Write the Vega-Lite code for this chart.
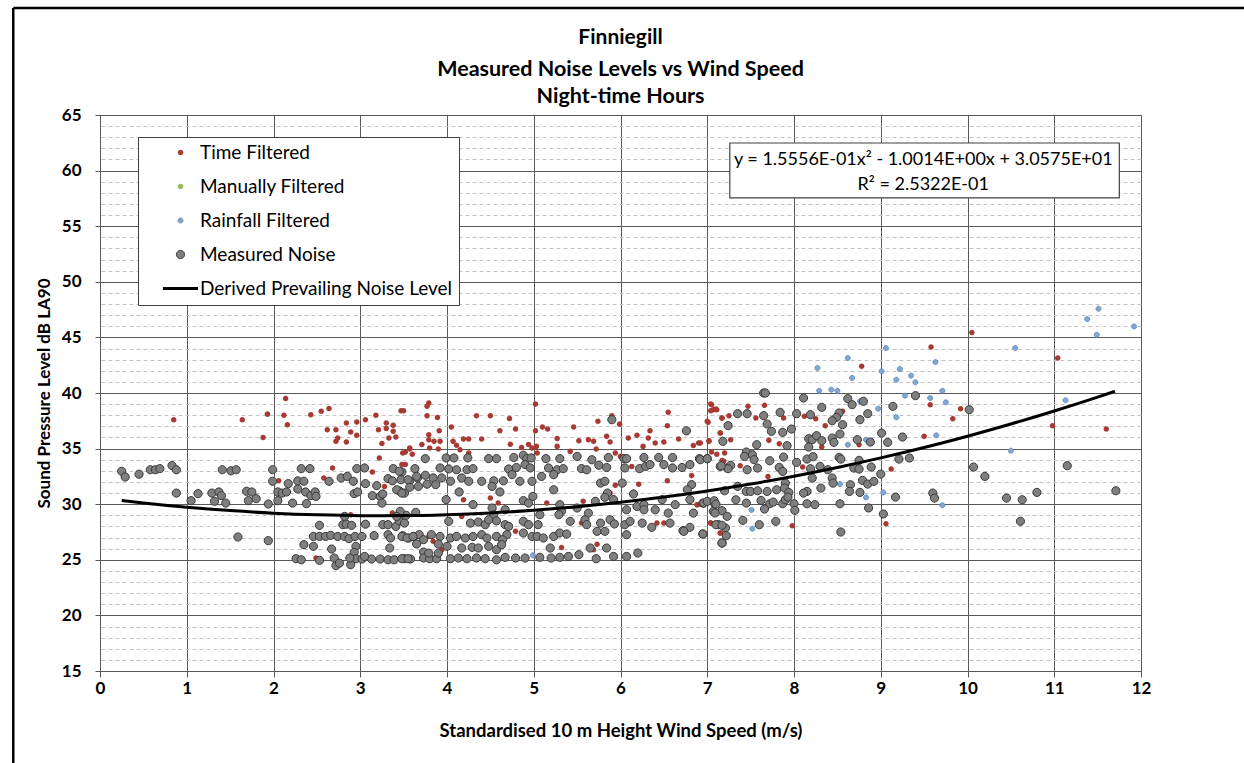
{
  "$schema": "https://vega.github.io/schema/vega-lite/v6.json",
  "width": 1041,
  "height": 556,
  "autosize": {"type": "none"},
  "padding": {"left": 100, "top": 115, "right": 103, "bottom": 92},
  "background": "white",
  "title": {
    "text": "Finniegill",
    "subtitle": ["Measured Noise Levels vs Wind Speed", "Night-time Hours"],
    "anchor": "middle",
    "frame": "group",
    "font": "Lato",
    "fontSize": 21,
    "fontWeight": "bold",
    "color": "black",
    "subtitleFont": "Lato",
    "subtitleFontSize": 21.5,
    "subtitleFontWeight": "bold",
    "subtitleColor": "black",
    "subtitleLineHeight": 27,
    "subtitlePadding": 11,
    "offset": 8,
    "dy": 109
  },
  "resolve": {"axis": {"y": "independent"}},
  "config": {
    "font": "Lato",
    "view": {"stroke": "#595959", "strokeWidth": 1},
    "axis": {
      "labelFont": "Lato",
      "labelFontSize": 17,
      "labelFontWeight": "bold",
      "labelColor": "black",
      "labelOverlap": false,
      "titleFont": "Lato",
      "titleFontSize": 17,
      "titleFontWeight": "bold",
      "titleColor": "black",
      "domainColor": "#595959",
      "tickColor": "#595959"
    }
  },
  "datasets": {
    "pts": [
      {"series":"Time Filtered","x":0.85,"y":37.6},{"series":"Time Filtered","x":1.64,"y":37.6},{"series":"Time Filtered","x":1.93,"y":38.1},{"series":"Time Filtered","x":1.88,"y":36.0},{"series":"Time Filtered","x":2.14,"y":39.5},{"series":"Time Filtered","x":2.12,"y":38.0},{"series":"Time Filtered","x":2.16,"y":37.15},{"series":"Time Filtered","x":2.43,"y":38.05},{"series":"Time Filtered","x":2.55,"y":38.35},{"series":"Time Filtered","x":2.64,"y":38.6},{"series":"Time Filtered","x":2.62,"y":36.7},{"series":"Time Filtered","x":2.72,"y":36.7},{"series":"Time Filtered","x":2.74,"y":35.95},{"series":"Time Filtered","x":2.72,"y":35.65},{"series":"Time Filtered","x":2.84,"y":35.6},{"series":"Time Filtered","x":2.84,"y":37.3},{"series":"Time Filtered","x":2.89,"y":36.5},{"series":"Time Filtered","x":2.96,"y":37.4},{"series":"Time Filtered","x":2.96,"y":36.2},{"series":"Time Filtered","x":3.06,"y":37.6},{"series":"Time Filtered","x":3.18,"y":38.0},{"series":"Time Filtered","x":3.21,"y":36.7},{"series":"Time Filtered","x":3.3,"y":37.3},{"series":"Time Filtered","x":3.3,"y":36.8},{"series":"Time Filtered","x":3.38,"y":37.1},{"series":"Time Filtered","x":3.38,"y":36.55},{"series":"Time Filtered","x":3.33,"y":35.95},{"series":"Time Filtered","x":3.41,"y":36.05},{"series":"Time Filtered","x":3.25,"y":35.45},{"series":"Time Filtered","x":3.5,"y":38.4},{"series":"Time Filtered","x":3.52,"y":34.7},{"series":"Time Filtered","x":3.57,"y":34.97},{"series":"Time Filtered","x":3.6,"y":34.5},{"series":"Time Filtered","x":3.52,"y":33.56},{"series":"Time Filtered","x":3.22,"y":34.15},{"series":"Time Filtered","x":3.14,"y":32.9},{"series":"Time Filtered","x":2.68,"y":33.26},{"series":"Time Filtered","x":2.58,"y":32.36},{"series":"Time Filtered","x":2.06,"y":32.1},{"series":"Time Filtered","x":3.28,"y":31.6},{"series":"Time Filtered","x":2.89,"y":29.06},{"series":"Time Filtered","x":3.37,"y":29.2},{"series":"Time Filtered","x":2.49,"y":25.16},
      {"series":"Time Filtered","x":3.47,"y":38.4},{"series":"Time Filtered","x":3.79,"y":39.1},{"series":"Time Filtered","x":3.77,"y":38.8},{"series":"Time Filtered","x":3.77,"y":37.96},{"series":"Time Filtered","x":3.89,"y":37.8},{"series":"Time Filtered","x":4.34,"y":37.96},{"series":"Time Filtered","x":4.5,"y":37.96},{"series":"Time Filtered","x":4.72,"y":37.7},{"series":"Time Filtered","x":5.02,"y":39.0},{"series":"Time Filtered","x":4.05,"y":36.94},{"series":"Time Filtered","x":4.61,"y":36.6},{"series":"Time Filtered","x":4.79,"y":36.76},{"series":"Time Filtered","x":5.1,"y":36.94},{"series":"Time Filtered","x":5.16,"y":36.76},{"series":"Time Filtered","x":5.02,"y":36.6},{"series":"Time Filtered","x":5.46,"y":36.94},{"series":"Time Filtered","x":5.74,"y":37.45},{"series":"Time Filtered","x":5.9,"y":37.96},{"series":"Time Filtered","x":5.99,"y":37.2},{"series":"Time Filtered","x":6.55,"y":38.26},{"series":"Time Filtered","x":6.54,"y":37.06},{"series":"Time Filtered","x":6.34,"y":36.6},{"series":"Time Filtered","x":7.04,"y":39.0},{"series":"Time Filtered","x":7.07,"y":38.5},{"series":"Time Filtered","x":7.11,"y":38.5},{"series":"Time Filtered","x":7.17,"y":37.75},{"series":"Time Filtered","x":7.0,"y":37.45},{"series":"Time Filtered","x":3.91,"y":36.6},{"series":"Time Filtered","x":3.79,"y":36.25},{"series":"Time Filtered","x":3.79,"y":35.8},{"series":"Time Filtered","x":3.71,"y":35.36},{"series":"Time Filtered","x":3.8,"y":35.06},{"series":"Time Filtered","x":3.9,"y":34.97},{"series":"Time Filtered","x":3.85,"y":35.65},{"series":"Time Filtered","x":3.92,"y":35.65},{"series":"Time Filtered","x":4.07,"y":35.65},{"series":"Time Filtered","x":4.11,"y":35.3},{"series":"Time Filtered","x":4.15,"y":34.9},{"series":"Time Filtered","x":4.19,"y":35.86},{"series":"Time Filtered","x":4.25,"y":35.86},{"series":"Time Filtered","x":4.4,"y":35.86},{"series":"Time Filtered","x":4.25,"y":34.6},{"series":"Time Filtered","x":3.57,"y":35.06},{"series":"Time Filtered","x":3.49,"y":34.6},{"series":"Time Filtered","x":3.48,"y":33.56},{"series":"Time Filtered","x":4.73,"y":35.4},{"series":"Time Filtered","x":4.86,"y":35.1},{"series":"Time Filtered","x":4.94,"y":35.36},{"series":"Time Filtered","x":4.98,"y":35.06},{"series":"Time Filtered","x":5.03,"y":35.2},{"series":"Time Filtered","x":5.04,"y":34.6},{"series":"Time Filtered","x":5.27,"y":35.9},{"series":"Time Filtered","x":5.27,"y":35.2},{"series":"Time Filtered","x":5.42,"y":34.75},{"series":"Time Filtered","x":5.52,"y":35.7},{"series":"Time Filtered","x":5.63,"y":35.8},{"series":"Time Filtered","x":5.69,"y":35.65},{"series":"Time Filtered","x":5.72,"y":34.97},{"series":"Time Filtered","x":5.84,"y":36.1},{"series":"Time Filtered","x":5.88,"y":35.6},{"series":"Time Filtered","x":5.94,"y":34.6},{"series":"Time Filtered","x":6.09,"y":35.96},{"series":"Time Filtered","x":6.19,"y":36.2},{"series":"Time Filtered","x":6.26,"y":35.2},{"series":"Time Filtered","x":6.32,"y":35.96},{"series":"Time Filtered","x":6.4,"y":35.5},{"series":"Time Filtered","x":6.5,"y":35.6},{"series":"Time Filtered","x":6.67,"y":35.86},{"series":"Time Filtered","x":6.84,"y":35.27},{"series":"Time Filtered","x":6.9,"y":35.5},{"series":"Time Filtered","x":7.02,"y":35.7},{"series":"Time Filtered","x":7.15,"y":36.4},{"series":"Time Filtered","x":7.11,"y":34.5},{"series":"Time Filtered","x":7.19,"y":33.86},{"series":"Time Filtered","x":6.0,"y":34.3},{"series":"Time Filtered","x":6.13,"y":33.4},{"series":"Time Filtered","x":6.21,"y":31.8},{"series":"Time Filtered","x":6.54,"y":32.1},{"series":"Time Filtered","x":6.82,"y":32.57},{"series":"Time Filtered","x":5.94,"y":31.7},{"series":"Time Filtered","x":5.88,"y":31.0},{"series":"Time Filtered","x":4.5,"y":30.56},{"series":"Time Filtered","x":4.59,"y":30.1},{"series":"Time Filtered","x":5.15,"y":30.1},{"series":"Time Filtered","x":4.17,"y":28.9},{"series":"Time Filtered","x":4.79,"y":27.56},{"series":"Time Filtered","x":5.55,"y":28.3},{"series":"Time Filtered","x":5.73,"y":26.4},{"series":"Time Filtered","x":5.69,"y":25.9},{"series":"Time Filtered","x":5.32,"y":26.1},{"series":"Time Filtered","x":3.94,"y":25.9},{"series":"Time Filtered","x":3.84,"y":26.66},{"series":"Time Filtered","x":3.79,"y":27.1},{"series":"Time Filtered","x":6.88,"y":29.96},{"series":"Time Filtered","x":7.04,"y":28.3},{"series":"Time Filtered","x":7.15,"y":27.4},{"series":"Time Filtered","x":6.42,"y":28.3},{"series":"Time Filtered","x":6.5,"y":28.3},{"series":"Time Filtered","x":5.57,"y":30.26},{"series":"Time Filtered","x":4.19,"y":30.4},
      {"series":"Time Filtered","x":10.05,"y":45.45},{"series":"Time Filtered","x":9.58,"y":44.13},{"series":"Time Filtered","x":11.04,"y":43.14},{"series":"Time Filtered","x":8.78,"y":42.4},{"series":"Time Filtered","x":9.57,"y":38.95},{"series":"Time Filtered","x":9.92,"y":38.59},{"series":"Time Filtered","x":9.83,"y":37.69},{"series":"Time Filtered","x":9.5,"y":36.1},{"series":"Time Filtered","x":10.98,"y":37.06},{"series":"Time Filtered","x":11.6,"y":36.76},{"series":"Time Filtered","x":9.12,"y":33.16},{"series":"Time Filtered","x":9.06,"y":28.25},{"series":"Time Filtered","x":7.98,"y":28.07},{"series":"Time Filtered","x":7.05,"y":38.95},{"series":"Time Filtered","x":7.1,"y":38.56},{"series":"Time Filtered","x":7.04,"y":38.41},{"series":"Time Filtered","x":7.17,"y":37.75},{"series":"Time Filtered","x":7.25,"y":37.96},{"series":"Time Filtered","x":7.47,"y":38.8},{"series":"Time Filtered","x":7.66,"y":38.89},{"series":"Time Filtered","x":7.56,"y":37.75},{"series":"Time Filtered","x":7.88,"y":37.75},{"series":"Time Filtered","x":7.01,"y":37.36},{"series":"Time Filtered","x":7.15,"y":36.4},{"series":"Time Filtered","x":7.27,"y":35.8},{"series":"Time Filtered","x":7.02,"y":35.65},{"series":"Time Filtered","x":6.92,"y":35.5},{"series":"Time Filtered","x":7.05,"y":34.69},{"series":"Time Filtered","x":7.2,"y":34.6},{"series":"Time Filtered","x":7.17,"y":33.94},{"series":"Time Filtered","x":7.38,"y":33.46},{"series":"Time Filtered","x":7.71,"y":35.74},{"series":"Time Filtered","x":7.83,"y":35.44},{"series":"Time Filtered","x":7.7,"y":32.5},{"series":"Time Filtered","x":8.36,"y":37.06},{"series":"Time Filtered","x":8.25,"y":37.69},{"series":"Time Filtered","x":8.32,"y":35.14},{"series":"Time Filtered","x":8.12,"y":37.9},{"series":"Time Filtered","x":8.56,"y":38.35},{"series":"Time Filtered","x":8.75,"y":35.35},{"series":"Time Filtered","x":8.1,"y":33.34},{"series":"Time Filtered","x":7.17,"y":29.36},{"series":"Time Filtered","x":7.04,"y":28.31},{"series":"Time Filtered","x":7.15,"y":27.41},{"series":"Time Filtered","x":6.89,"y":29.96},
      {"series":"Rainfall Filtered","x":11.51,"y":47.58},{"series":"Rainfall Filtered","x":11.38,"y":46.65},{"series":"Rainfall Filtered","x":11.49,"y":45.24},{"series":"Rainfall Filtered","x":11.92,"y":45.99},{"series":"Rainfall Filtered","x":9.06,"y":44.04},{"series":"Rainfall Filtered","x":10.55,"y":44.04},{"series":"Rainfall Filtered","x":8.62,"y":43.14},{"series":"Rainfall Filtered","x":9.63,"y":42.78},{"series":"Rainfall Filtered","x":8.27,"y":42.25},{"series":"Rainfall Filtered","x":9.22,"y":42.15},{"series":"Rainfall Filtered","x":9.01,"y":41.95},{"series":"Rainfall Filtered","x":8.67,"y":41.35},{"series":"Rainfall Filtered","x":9.35,"y":41.56},{"series":"Rainfall Filtered","x":9.18,"y":41.2},{"series":"Rainfall Filtered","x":9.4,"y":40.96},{"series":"Rainfall Filtered","x":8.29,"y":40.2},{"series":"Rainfall Filtered","x":8.43,"y":40.3},{"series":"Rainfall Filtered","x":8.5,"y":40.2},{"series":"Rainfall Filtered","x":9.71,"y":40.2},{"series":"Rainfall Filtered","x":9.28,"y":39.76},{"series":"Rainfall Filtered","x":9.57,"y":39.55},{"series":"Rainfall Filtered","x":9.75,"y":39.16},{"series":"Rainfall Filtered","x":11.13,"y":39.34},{"series":"Rainfall Filtered","x":8.76,"y":39.25},{"series":"Rainfall Filtered","x":8.97,"y":38.59},{"series":"Rainfall Filtered","x":9.18,"y":37.81},{"series":"Rainfall Filtered","x":9.64,"y":36.19},{"series":"Rainfall Filtered","x":8.62,"y":35.35},{"series":"Rainfall Filtered","x":8.83,"y":35.8},{"series":"Rainfall Filtered","x":10.5,"y":34.81},{"series":"Rainfall Filtered","x":8.53,"y":31.81},{"series":"Rainfall Filtered","x":9.03,"y":31.06},{"series":"Rainfall Filtered","x":8.83,"y":30.61},{"series":"Rainfall Filtered","x":9.71,"y":29.9},{"series":"Rainfall Filtered","x":7.51,"y":29.48},{"series":"Rainfall Filtered","x":7.52,"y":27.8},{"series":"Rainfall Filtered","x":4.99,"y":25.4},
      {"series":"Measured Noise","x":0.25,"y":32.96},{"series":"Measured Noise","x":0.29,"y":32.45},{"series":"Measured Noise","x":0.45,"y":32.7},{"series":"Measured Noise","x":0.58,"y":33.1},{"series":"Measured Noise","x":0.64,"y":33.1},{"series":"Measured Noise","x":0.69,"y":33.2},{"series":"Measured Noise","x":0.83,"y":33.47},{"series":"Measured Noise","x":0.88,"y":33.1},{"series":"Measured Noise","x":0.88,"y":31.0},{"series":"Measured Noise","x":1.05,"y":30.32},{"series":"Measured Noise","x":1.13,"y":30.95},{"series":"Measured Noise","x":1.29,"y":31.0},{"series":"Measured Noise","x":1.32,"y":30.26},{"series":"Measured Noise","x":1.37,"y":31.1},{"series":"Measured Noise","x":1.4,"y":30.77},{"series":"Measured Noise","x":1.45,"y":30.1},{"series":"Measured Noise","x":1.41,"y":33.1},{"series":"Measured Noise","x":1.51,"y":33.0},{"series":"Measured Noise","x":1.57,"y":33.1},{"series":"Measured Noise","x":1.69,"y":31.16},{"series":"Measured Noise","x":1.75,"y":31.1},{"series":"Measured Noise","x":1.71,"y":30.32},{"series":"Measured Noise","x":1.8,"y":30.5},{"series":"Measured Noise","x":1.59,"y":27.05},{"series":"Measured Noise","x":1.94,"y":26.72},{"series":"Measured Noise","x":1.94,"y":30.02},{"series":"Measured Noise","x":1.99,"y":33.1},{"series":"Measured Noise","x":1.99,"y":32.06},{"series":"Measured Noise","x":2.05,"y":31.1},{"series":"Measured Noise","x":2.1,"y":31.0},{"series":"Measured Noise","x":2.15,"y":31.1},{"series":"Measured Noise","x":2.17,"y":31.85},{"series":"Measured Noise","x":2.05,"y":30.32},{"series":"Measured Noise","x":2.22,"y":30.1},{"series":"Measured Noise","x":2.28,"y":32.1},{"series":"Measured Noise","x":2.35,"y":32.06},{"series":"Measured Noise","x":2.32,"y":33.2},{"series":"Measured Noise","x":2.42,"y":33.2},{"series":"Measured Noise","x":2.28,"y":31.37},{"series":"Measured Noise","x":2.37,"y":31.1},{"series":"Measured Noise","x":2.43,"y":30.77},{"series":"Measured Noise","x":2.48,"y":31.1},{"series":"Measured Noise","x":2.49,"y":30.7},{"series":"Measured Noise","x":2.38,"y":30.05},{"series":"Measured Noise","x":2.64,"y":32.06},{"series":"Measured Noise","x":2.78,"y":32.36},{"series":"Measured Noise","x":2.85,"y":32.5},{"series":"Measured Noise","x":2.92,"y":32.06},{"series":"Measured Noise","x":2.93,"y":30.95},{"series":"Measured Noise","x":2.97,"y":31.1},{"series":"Measured Noise","x":2.96,"y":33.2},{"series":"Measured Noise","x":3.05,"y":33.26},{"series":"Measured Noise","x":3.06,"y":31.85},{"series":"Measured Noise","x":3.19,"y":31.67},{"series":"Measured Noise","x":3.14,"y":30.77},{"series":"Measured Noise","x":3.23,"y":30.7},{"series":"Measured Noise","x":3.25,"y":30.1},{"series":"Measured Noise","x":3.26,"y":30.92},{"series":"Measured Noise","x":3.32,"y":32.3},{"series":"Measured Noise","x":3.37,"y":32.1},{"series":"Measured Noise","x":3.38,"y":33.2},{"series":"Measured Noise","x":3.48,"y":32.9},{"series":"Measured Noise","x":3.47,"y":32.2},{"series":"Measured Noise","x":3.57,"y":32.1},{"series":"Measured Noise","x":3.66,"y":32.36},{"series":"Measured Noise","x":3.45,"y":31.2},{"series":"Measured Noise","x":3.51,"y":31.0},{"series":"Measured Noise","x":3.57,"y":31.52},{"series":"Measured Noise","x":2.82,"y":28.9},{"series":"Measured Noise","x":2.8,"y":28.16},{"series":"Measured Noise","x":2.84,"y":28.2},{"series":"Measured Noise","x":2.9,"y":28.1},{"series":"Measured Noise","x":3.06,"y":28.2},{"series":"Measured Noise","x":3.26,"y":28.16},{"series":"Measured Noise","x":3.32,"y":28.16},{"series":"Measured Noise","x":3.41,"y":28.0},{"series":"Measured Noise","x":3.45,"y":28.5},{"series":"Measured Noise","x":3.51,"y":28.3},{"series":"Measured Noise","x":3.53,"y":29.0},{"series":"Measured Noise","x":2.53,"y":28.1},{"series":"Measured Noise","x":2.46,"y":27.1},{"series":"Measured Noise","x":2.53,"y":27.1},{"series":"Measured Noise","x":2.6,"y":27.1},{"series":"Measured Noise","x":2.66,"y":27.2},{"series":"Measured Noise","x":2.74,"y":27.1},{"series":"Measured Noise","x":2.82,"y":27.1},{"series":"Measured Noise","x":2.87,"y":26.9},{"series":"Measured Noise","x":2.94,"y":27.1},{"series":"Measured Noise","x":3.02,"y":27.1},{"series":"Measured Noise","x":3.16,"y":27.17},{"series":"Measured Noise","x":3.32,"y":27.26},{"series":"Measured Noise","x":3.35,"y":26.96},{"series":"Measured Noise","x":3.49,"y":27.17},{"series":"Measured Noise","x":3.56,"y":26.96},{"series":"Measured Noise","x":3.62,"y":27.1},{"series":"Measured Noise","x":3.68,"y":27.26},{"series":"Measured Noise","x":2.35,"y":26.36},{"series":"Measured Noise","x":2.46,"y":26.21},{"series":"Measured Noise","x":2.67,"y":25.97},{"series":"Measured Noise","x":2.95,"y":26.21},{"series":"Measured Noise","x":2.93,"y":25.67},{"series":"Measured Noise","x":3.34,"y":26.06},{"series":"Measured Noise","x":2.26,"y":25.1},{"series":"Measured Noise","x":2.32,"y":25.0},{"series":"Measured Noise","x":2.53,"y":24.95},{"series":"Measured Noise","x":2.7,"y":25.16},{"series":"Measured Noise","x":2.72,"y":24.47},{"series":"Measured Noise","x":2.76,"y":24.7},{"series":"Measured Noise","x":2.89,"y":24.56},{"series":"Measured Noise","x":2.95,"y":25.1},{"series":"Measured Noise","x":3.02,"y":25.07},{"series":"Measured Noise","x":3.13,"y":25.07},{"series":"Measured Noise","x":3.23,"y":25.07},{"series":"Measured Noise","x":3.32,"y":25.0},{"series":"Measured Noise","x":3.39,"y":25.0},{"series":"Measured Noise","x":3.51,"y":25.1},{"series":"Measured Noise","x":3.58,"y":25.07},{"series":"Measured Noise","x":3.05,"y":25.3},{"series":"Measured Noise","x":2.88,"y":25.16},
      {"series":"Measured Noise","x":3.75,"y":34.1},{"series":"Measured Noise","x":3.99,"y":34.16},{"series":"Measured Noise","x":4.08,"y":34.16},{"series":"Measured Noise","x":4.24,"y":34.16},{"series":"Measured Noise","x":4.48,"y":34.1},{"series":"Measured Noise","x":4.57,"y":34.1},{"series":"Measured Noise","x":4.77,"y":34.2},{"series":"Measured Noise","x":4.88,"y":34.4},{"series":"Measured Noise","x":4.92,"y":34.1},{"series":"Measured Noise","x":4.97,"y":34.16},{"series":"Measured Noise","x":4.9,"y":33.56},{"series":"Measured Noise","x":5.14,"y":34.1},{"series":"Measured Noise","x":5.3,"y":34.1},{"series":"Measured Noise","x":5.5,"y":34.3},{"series":"Measured Noise","x":5.67,"y":34.0},{"series":"Measured Noise","x":5.86,"y":34.2},{"series":"Measured Noise","x":6.04,"y":34.1},{"series":"Measured Noise","x":6.07,"y":34.1},{"series":"Measured Noise","x":6.27,"y":34.2},{"series":"Measured Noise","x":6.44,"y":34.2},{"series":"Measured Noise","x":6.6,"y":34.2},{"series":"Measured Noise","x":6.91,"y":34.1},{"series":"Measured Noise","x":7.0,"y":34.1},{"series":"Measured Noise","x":6.76,"y":36.6},{"series":"Measured Noise","x":5.9,"y":37.6},
      {"series":"Measured Noise","x":3.45,"y":32.96},{"series":"Measured Noise","x":3.63,"y":33.2},{"series":"Measured Noise","x":3.92,"y":33.26},{"series":"Measured Noise","x":4.02,"y":33.17},{"series":"Measured Noise","x":4.11,"y":33.1},{"series":"Measured Noise","x":4.23,"y":33.1},{"series":"Measured Noise","x":4.3,"y":33.2},{"series":"Measured Noise","x":4.71,"y":33.17},{"series":"Measured Noise","x":4.8,"y":33.3},{"series":"Measured Noise","x":4.96,"y":33.26},{"series":"Measured Noise","x":5.17,"y":33.26},{"series":"Measured Noise","x":5.27,"y":33.1},{"series":"Measured Noise","x":5.34,"y":33.2},{"series":"Measured Noise","x":5.55,"y":33.2},{"series":"Measured Noise","x":5.61,"y":33.1},{"series":"Measured Noise","x":5.75,"y":33.5},{"series":"Measured Noise","x":5.84,"y":33.3},{"series":"Measured Noise","x":6.05,"y":33.26},{"series":"Measured Noise","x":6.22,"y":33.2},{"series":"Measured Noise","x":6.29,"y":33.4},{"series":"Measured Noise","x":6.34,"y":33.56},{"series":"Measured Noise","x":6.5,"y":33.56},{"series":"Measured Noise","x":6.6,"y":33.26},{"series":"Measured Noise","x":6.71,"y":33.3},{"series":"Measured Noise","x":6.8,"y":33.56},{"series":"Measured Noise","x":7.15,"y":33.4},{"series":"Measured Noise","x":7.23,"y":33.26},
      {"series":"Measured Noise","x":3.55,"y":32.2},{"series":"Measured Noise","x":3.65,"y":32.5},{"series":"Measured Noise","x":3.75,"y":32.6},{"series":"Measured Noise","x":3.84,"y":32.36},{"series":"Measured Noise","x":3.94,"y":32.36},{"series":"Measured Noise","x":4.04,"y":32.06},{"series":"Measured Noise","x":4.17,"y":32.36},{"series":"Measured Noise","x":4.25,"y":32.06},{"series":"Measured Noise","x":4.4,"y":32.06},{"series":"Measured Noise","x":4.54,"y":32.1},{"series":"Measured Noise","x":4.65,"y":32.1},{"series":"Measured Noise","x":4.75,"y":32.66},{"series":"Measured Noise","x":4.84,"y":32.06},{"series":"Measured Noise","x":4.98,"y":32.06},{"series":"Measured Noise","x":5.09,"y":32.5},{"series":"Measured Noise","x":5.23,"y":32.66},{"series":"Measured Noise","x":5.77,"y":31.9},{"series":"Measured Noise","x":5.82,"y":32.06},{"series":"Measured Noise","x":6.02,"y":31.9},{"series":"Measured Noise","x":3.42,"y":31.3},{"series":"Measured Noise","x":3.48,"y":31.0},{"series":"Measured Noise","x":3.67,"y":31.6},{"series":"Measured Noise","x":3.77,"y":31.8},{"series":"Measured Noise","x":3.87,"y":31.76},{"series":"Measured Noise","x":3.99,"y":30.41},{"series":"Measured Noise","x":4.14,"y":31.1},{"series":"Measured Noise","x":4.52,"y":31.6},{"series":"Measured Noise","x":4.61,"y":31.1},{"series":"Measured Noise","x":4.99,"y":30.7},{"series":"Measured Noise","x":5.23,"y":31.3},{"series":"Measured Noise","x":5.85,"y":31.0},{"series":"Measured Noise","x":6.82,"y":31.76},{"series":"Measured Noise","x":6.77,"y":31.3},{"series":"Measured Noise","x":6.15,"y":30.92},{"series":"Measured Noise","x":4.88,"y":30.32},{"series":"Measured Noise","x":4.94,"y":30.1},
      {"series":"Measured Noise","x":4.3,"y":29.96},{"series":"Measured Noise","x":4.52,"y":29.66},{"series":"Measured Noise","x":4.54,"y":29.06},{"series":"Measured Noise","x":4.67,"y":29.5},{"series":"Measured Noise","x":5.3,"y":29.96},{"series":"Measured Noise","x":5.32,"y":29.36},{"series":"Measured Noise","x":5.5,"y":29.66},{"series":"Measured Noise","x":5.63,"y":29.2},{"series":"Measured Noise","x":5.71,"y":30.26},{"series":"Measured Noise","x":5.82,"y":30.62},{"series":"Measured Noise","x":5.92,"y":30.41},{"series":"Measured Noise","x":6.07,"y":29.5},{"series":"Measured Noise","x":6.19,"y":29.8},{"series":"Measured Noise","x":6.27,"y":29.96},{"series":"Measured Noise","x":6.27,"y":29.5},{"series":"Measured Noise","x":6.4,"y":29.5},{"series":"Measured Noise","x":6.48,"y":30.41},{"series":"Measured Noise","x":6.55,"y":29.2},{"series":"Measured Noise","x":6.63,"y":29.96},{"series":"Measured Noise","x":6.8,"y":30.41},{"series":"Measured Noise","x":6.84,"y":29.2},{"series":"Measured Noise","x":6.95,"y":30.1},{"series":"Measured Noise","x":7.09,"y":30.0},{"series":"Measured Noise","x":7.07,"y":29.36},{"series":"Measured Noise","x":7.17,"y":29.42},{"series":"Measured Noise","x":3.46,"y":29.36},{"series":"Measured Noise","x":3.64,"y":29.27},{"series":"Measured Noise","x":3.42,"y":28.9},{"series":"Measured Noise","x":4.02,"y":28.46},{"series":"Measured Noise","x":4.27,"y":28.3},{"series":"Measured Noise","x":4.36,"y":28.4},{"series":"Measured Noise","x":4.44,"y":28.16},{"series":"Measured Noise","x":4.57,"y":28.5},{"series":"Measured Noise","x":4.48,"y":28.6},{"series":"Measured Noise","x":4.67,"y":28.16},{"series":"Measured Noise","x":4.71,"y":28.0},{"series":"Measured Noise","x":4.88,"y":28.46},{"series":"Measured Noise","x":4.94,"y":28.16},{"series":"Measured Noise","x":5.05,"y":28.16},{"series":"Measured Noise","x":5.07,"y":29.06},{"series":"Measured Noise","x":5.29,"y":29.06},{"series":"Measured Noise","x":5.42,"y":28.46},{"series":"Measured Noise","x":5.59,"y":28.6},{"series":"Measured Noise","x":5.61,"y":28.16},{"series":"Measured Noise","x":5.77,"y":28.3},{"series":"Measured Noise","x":5.88,"y":28.6},{"series":"Measured Noise","x":5.93,"y":28.22},{"series":"Measured Noise","x":6.05,"y":28.16},{"series":"Measured Noise","x":6.11,"y":28.46},{"series":"Measured Noise","x":6.25,"y":28.3},{"series":"Measured Noise","x":6.36,"y":27.92},{"series":"Measured Noise","x":6.57,"y":28.3},{"series":"Measured Noise","x":6.72,"y":27.62},{"series":"Measured Noise","x":6.8,"y":27.92},{"series":"Measured Noise","x":6.95,"y":27.32},{"series":"Measured Noise","x":7.13,"y":28.16},{"series":"Measured Noise","x":7.21,"y":27.86},{"series":"Measured Noise","x":7.17,"y":26.51},
      {"series":"Measured Noise","x":3.48,"y":27.1},{"series":"Measured Noise","x":3.54,"y":26.96},{"series":"Measured Noise","x":3.61,"y":27.1},{"series":"Measured Noise","x":3.73,"y":26.81},{"series":"Measured Noise","x":3.82,"y":27.26},{"series":"Measured Noise","x":3.92,"y":27.1},{"series":"Measured Noise","x":4.04,"y":26.96},{"series":"Measured Noise","x":4.11,"y":27.1},{"series":"Measured Noise","x":4.21,"y":26.96},{"series":"Measured Noise","x":4.3,"y":27.1},{"series":"Measured Noise","x":4.4,"y":27.26},{"series":"Measured Noise","x":4.46,"y":26.96},{"series":"Measured Noise","x":4.57,"y":27.1},{"series":"Measured Noise","x":4.69,"y":27.26},{"series":"Measured Noise","x":4.64,"y":26.81},{"series":"Measured Noise","x":4.88,"y":27.41},{"series":"Measured Noise","x":4.98,"y":27.1},{"series":"Measured Noise","x":5.04,"y":27.1},{"series":"Measured Noise","x":5.11,"y":26.96},{"series":"Measured Noise","x":5.23,"y":27.1},{"series":"Measured Noise","x":5.3,"y":27.41},{"series":"Measured Noise","x":5.38,"y":27.32},{"series":"Measured Noise","x":5.73,"y":27.56},{"series":"Measured Noise","x":5.82,"y":27.56},{"series":"Measured Noise","x":6.07,"y":27.26},{"series":"Measured Noise","x":6.73,"y":27.56},
      {"series":"Measured Noise","x":3.65,"y":26.42},{"series":"Measured Noise","x":3.9,"y":26.42},{"series":"Measured Noise","x":4.0,"y":26.21},{"series":"Measured Noise","x":4.17,"y":26.06},{"series":"Measured Noise","x":4.29,"y":26.12},{"series":"Measured Noise","x":4.36,"y":26.06},{"series":"Measured Noise","x":4.48,"y":26.21},{"series":"Measured Noise","x":4.57,"y":25.91},{"series":"Measured Noise","x":4.63,"y":26.36},{"series":"Measured Noise","x":5.19,"y":26.06},{"series":"Measured Noise","x":5.65,"y":26.06},{"series":"Measured Noise","x":5.84,"y":26.06},{"series":"Measured Noise","x":3.73,"y":25.7},
      {"series":"Measured Noise","x":3.48,"y":25.1},{"series":"Measured Noise","x":3.55,"y":25.1},{"series":"Measured Noise","x":3.73,"y":25.16},{"series":"Measured Noise","x":3.8,"y":25.1},{"series":"Measured Noise","x":3.88,"y":25.1},{"series":"Measured Noise","x":4.04,"y":25.1},{"series":"Measured Noise","x":4.13,"y":25.16},{"series":"Measured Noise","x":4.23,"y":25.1},{"series":"Measured Noise","x":4.34,"y":25.16},{"series":"Measured Noise","x":4.44,"y":25.1},{"series":"Measured Noise","x":4.57,"y":25.0},{"series":"Measured Noise","x":4.67,"y":25.22},{"series":"Measured Noise","x":4.79,"y":25.16},{"series":"Measured Noise","x":4.9,"y":25.16},{"series":"Measured Noise","x":5.07,"y":25.22},{"series":"Measured Noise","x":5.2,"y":25.16},{"series":"Measured Noise","x":5.3,"y":25.22},{"series":"Measured Noise","x":5.4,"y":25.3},{"series":"Measured Noise","x":5.52,"y":25.46},{"series":"Measured Noise","x":5.72,"y":25.1},{"series":"Measured Noise","x":5.92,"y":25.3},{"series":"Measured Noise","x":6.07,"y":25.3},{"series":"Measured Noise","x":6.2,"y":25.61},{"series":"Measured Noise","x":3.9,"y":25.6},{"series":"Measured Noise","x":3.79,"y":25.6},
      {"series":"Measured Noise","x":7.65,"y":40.0},{"series":"Measured Noise","x":7.67,"y":40.0},{"series":"Measured Noise","x":8.11,"y":39.55},{"series":"Measured Noise","x":8.62,"y":39.49},{"series":"Measured Noise","x":8.67,"y":38.95},{"series":"Measured Noise","x":8.8,"y":39.25},{"series":"Measured Noise","x":9.14,"y":38.8},{"series":"Measured Noise","x":9.4,"y":39.76},{"series":"Measured Noise","x":10.02,"y":38.5},{"series":"Measured Noise","x":8.32,"y":38.71},{"series":"Measured Noise","x":7.35,"y":38.14},{"series":"Measured Noise","x":7.46,"y":38.14},{"series":"Measured Noise","x":7.65,"y":37.96},{"series":"Measured Noise","x":7.84,"y":38.26},{"series":"Measured Noise","x":8.03,"y":38.14},{"series":"Measured Noise","x":8.19,"y":38.05},{"series":"Measured Noise","x":8.52,"y":38.2},{"series":"Measured Noise","x":8.49,"y":37.81},{"series":"Measured Noise","x":8.44,"y":37.51},{"series":"Measured Noise","x":8.56,"y":37.15},{"series":"Measured Noise","x":8.85,"y":38.14},{"series":"Measured Noise","x":8.76,"y":37.6},{"series":"Measured Noise","x":7.24,"y":37.06},{"series":"Measured Noise","x":7.69,"y":37.21},{"series":"Measured Noise","x":7.74,"y":36.55},{"series":"Measured Noise","x":7.87,"y":36.46},{"series":"Measured Noise","x":7.97,"y":36.76},{"series":"Measured Noise","x":7.57,"y":35.35},{"series":"Measured Noise","x":7.92,"y":35.26},{"series":"Measured Noise","x":7.18,"y":35.65},{"series":"Measured Noise","x":8.17,"y":35.89},{"series":"Measured Noise","x":8.21,"y":35.8},{"series":"Measured Noise","x":8.26,"y":36.16},{"series":"Measured Noise","x":8.32,"y":35.71},{"series":"Measured Noise","x":8.44,"y":35.95},{"series":"Measured Noise","x":8.46,"y":35.56},{"series":"Measured Noise","x":8.53,"y":36.31},{"series":"Measured Noise","x":8.73,"y":35.8},{"series":"Measured Noise","x":8.88,"y":35.59},{"series":"Measured Noise","x":9.01,"y":36.4},{"series":"Measured Noise","x":9.08,"y":35.56},{"series":"Measured Noise","x":9.25,"y":36.04},{"series":"Measured Noise","x":8.17,"y":35.14},{"series":"Measured Noise","x":7.45,"y":34.69},{"series":"Measured Noise","x":7.52,"y":34.45},{"series":"Measured Noise","x":7.43,"y":34.3},{"series":"Measured Noise","x":7.54,"y":34.0},{"series":"Measured Noise","x":7.72,"y":33.91},{"series":"Measured Noise","x":7.88,"y":34.24},{"series":"Measured Noise","x":8.03,"y":33.76},{"series":"Measured Noise","x":8.15,"y":34.06},{"series":"Measured Noise","x":8.22,"y":34.27},{"series":"Measured Noise","x":7.83,"y":33.31},{"series":"Measured Noise","x":7.87,"y":32.95},{"series":"Measured Noise","x":7.58,"y":33.25},{"series":"Measured Noise","x":7.46,"y":33.1},{"series":"Measured Noise","x":7.27,"y":33.49},{"series":"Measured Noise","x":7.24,"y":33.19},{"series":"Measured Noise","x":7.16,"y":33.46},{"series":"Measured Noise","x":6.92,"y":34.0},{"series":"Measured Noise","x":7.0,"y":34.09},{"series":"Measured Noise","x":8.19,"y":33.19},{"series":"Measured Noise","x":8.3,"y":33.4},{"series":"Measured Noise","x":8.39,"y":33.1},{"series":"Measured Noise","x":8.52,"y":34.21},{"series":"Measured Noise","x":8.54,"y":34.06},{"series":"Measured Noise","x":8.75,"y":33.94},{"series":"Measured Noise","x":8.69,"y":33.25},{"series":"Measured Noise","x":8.75,"y":33.16},{"series":"Measured Noise","x":8.89,"y":33.34},{"series":"Measured Noise","x":9.0,"y":32.71},{"series":"Measured Noise","x":9.21,"y":34.06},{"series":"Measured Noise","x":9.33,"y":34.15},{"series":"Measured Noise","x":8.21,"y":32.35},{"series":"Measured Noise","x":8.31,"y":31.45},{"series":"Measured Noise","x":7.9,"y":31.9},{"series":"Measured Noise","x":8.44,"y":32.35},{"series":"Measured Noise","x":8.45,"y":31.9},{"series":"Measured Noise","x":8.65,"y":31.75},{"series":"Measured Noise","x":8.64,"y":31.15},{"series":"Measured Noise","x":8.79,"y":32.14},{"series":"Measured Noise","x":8.85,"y":31.81},{"series":"Measured Noise","x":8.92,"y":32.05},{"series":"Measured Noise","x":8.76,"y":31.06},{"series":"Measured Noise","x":9.17,"y":30.64},{"series":"Measured Noise","x":9.6,"y":31.0},{"series":"Measured Noise","x":9.62,"y":30.55},{"series":"Measured Noise","x":10.07,"y":33.34},{"series":"Measured Noise","x":10.2,"y":32.5},{"series":"Measured Noise","x":10.45,"y":30.55},{"series":"Measured Noise","x":10.63,"y":30.4},{"series":"Measured Noise","x":10.8,"y":31.06},{"series":"Measured Noise","x":10.61,"y":28.46},{"series":"Measured Noise","x":11.15,"y":33.46},{"series":"Measured Noise","x":11.71,"y":31.21},{"series":"Measured Noise","x":8.54,"y":27.5},{"series":"Measured Noise","x":8.86,"y":29.66},{"series":"Measured Noise","x":9.03,"y":29.12},{"series":"Measured Noise","x":7.35,"y":31.6},{"series":"Measured Noise","x":7.45,"y":31.15},{"series":"Measured Noise","x":7.5,"y":31.15},{"series":"Measured Noise","x":7.58,"y":31.21},{"series":"Measured Noise","x":7.69,"y":31.15},{"series":"Measured Noise","x":7.8,"y":31.3},{"series":"Measured Noise","x":7.89,"y":31.45},{"series":"Measured Noise","x":7.94,"y":31.06},{"series":"Measured Noise","x":8.15,"y":31.15},{"series":"Measured Noise","x":8.11,"y":31.0},{"series":"Measured Noise","x":7.33,"y":30.4},{"series":"Measured Noise","x":7.45,"y":30.1},{"series":"Measured Noise","x":7.62,"y":30.34},{"series":"Measured Noise","x":7.72,"y":30.04},{"series":"Measured Noise","x":7.76,"y":30.19},{"series":"Measured Noise","x":7.87,"y":30.04},{"series":"Measured Noise","x":7.9,"y":30.4},{"series":"Measured Noise","x":7.93,"y":30.64},{"series":"Measured Noise","x":8.0,"y":30.04},{"series":"Measured Noise","x":8.01,"y":29.45},{"series":"Measured Noise","x":7.66,"y":29.57},{"series":"Measured Noise","x":8.15,"y":30.04},{"series":"Measured Noise","x":8.24,"y":29.96},{"series":"Measured Noise","x":8.53,"y":30.04},{"series":"Measured Noise","x":7.2,"y":31.21},{"series":"Measured Noise","x":6.96,"y":30.1},{"series":"Measured Noise","x":7.0,"y":30.25},{"series":"Measured Noise","x":7.08,"y":30.31},{"series":"Measured Noise","x":7.1,"y":30.01},{"series":"Measured Noise","x":7.09,"y":29.21},{"series":"Measured Noise","x":7.23,"y":28.91},{"series":"Measured Noise","x":7.41,"y":28.55},{"series":"Measured Noise","x":7.6,"y":28.16},{"series":"Measured Noise","x":7.79,"y":28.46},{"series":"Measured Noise","x":7.1,"y":28.16},{"series":"Measured Noise","x":7.17,"y":28.1},{"series":"Measured Noise","x":7.22,"y":27.17},{"series":"Measured Noise","x":7.17,"y":26.51},{"series":"Measured Noise","x":6.95,"y":27.32}
    ],
    "fit": [
      {"x":0.25,"y":30.334},{"x":0.5,"y":30.113},{"x":1,"y":29.729},{"x":1.5,"y":29.423},{"x":2,"y":29.194},{"x":2.5,"y":29.044},{"x":3,"y":28.971},{"x":3.5,"y":28.976},{"x":4,"y":29.058},{"x":4.5,"y":29.219},{"x":5,"y":29.457},{"x":5.5,"y":29.773},{"x":6,"y":30.167},{"x":6.5,"y":30.638},{"x":7,"y":31.188},{"x":7.5,"y":31.815},{"x":8,"y":32.52},{"x":8.5,"y":33.302},{"x":9,"y":34.163},{"x":9.5,"y":35.101},{"x":10,"y":36.117},{"x":10.5,"y":37.211},{"x":11,"y":38.382},{"x":11.5,"y":39.632},{"x":11.7,"y":40.153}
    ]
  },
  "layer": [
    {
      "data": {"values": [{}]},
      "mark": {"type": "rule", "color": "black", "strokeWidth": 2.5},
      "encoding": {
        "x": {"datum": -1.0, "type": "quantitative"},
        "y": {"datum": 74.62, "type": "quantitative", "axis": null},
        "y2": {"datum": 6.5}
      }
    },
    {
      "data": {"values": [{}]},
      "mark": {"type": "rule", "color": "black", "strokeWidth": 2.5},
      "encoding": {
        "x": {"datum": -1.0, "type": "quantitative"},
        "x2": {"datum": 13.3},
        "y": {"datum": 74.62, "type": "quantitative", "axis": null}
      }
    },
    {
      "data": {"name": "pts"},
      "mark": {"type": "point", "filled": true, "opacity": 1, "strokeWidth": 1, "size": 70},
      "encoding": {
        "x": {
          "field": "x", "type": "quantitative",
          "scale": {"domain": [0, 12], "nice": false, "zero": false},
          "axis": {
            "title": "Standardised 10 m Height Wind Speed (m/s)",
            "titleFontSize": 18.5,
            "values": [0,1,2,3,4,5,6,7,8,9,10,11,12],
            "format": "d",
            "grid": true, "gridColor": "#595959", "gridWidth": 1,
            "tickSize": 6, "labelPadding": 3, "titlePadding": 25,
            "labelFlush": false
          }
        },
        "y": {
          "field": "y", "type": "quantitative",
          "scale": {"domain": [15, 65], "nice": false, "zero": false},
          "axis": {
            "title": "Sound Pressure Level dB LA90",
            "orient": "left",
            "values": [15,20,25,30,35,40,45,50,55,60,65],
            "format": "d",
            "labelOverlap": false,
            "grid": true,
            "gridColor": "#595959",
            "gridWidth": 1,
            "tickSize": 5,
            "labelPadding": 14,
            "titlePadding": 8,
            "labelFlush": false
          }
        },
        "color": {
          "field": "series", "type": "nominal",
          "scale": {
            "domain": ["Time Filtered", "Manually Filtered", "Rainfall Filtered", "Measured Noise", "Derived Prevailing Noise Level"],
            "range": ["#a83a34", "#9bbb59", "#7fa8d5", "#7f7f7f", "#000000"]
          },
          "legend": {
            "title": null,
            "orient": "none",
            "legendX": 38,
            "legendY": 22,
            "direction": "vertical",
            "fillColor": "white",
            "strokeColor": "#404040",
            "padding": 6,
            "labelFont": "Lato",
            "labelFontSize": 19,
            "labelColor": "black",
            "labelLimit": 400,
            "labelOffset": 10,
            "rowPadding": 14,
            "symbolOffset": 27,
            "symbolSize": 70,
            "symbolStrokeWidth": 1
          }
        },
        "shape": {
          "field": "series", "type": "nominal",
          "scale": {
            "domain": ["Time Filtered", "Manually Filtered", "Rainfall Filtered", "Measured Noise", "Derived Prevailing Noise Level"],
            "range": [
              "M-0.66,0A0.66,0.66 0 1,0 0.66,0A0.66,0.66 0 1,0 -0.66,0Z",
              "M-0.66,0A0.66,0.66 0 1,0 0.66,0A0.66,0.66 0 1,0 -0.66,0Z",
              "M-0.6,0A0.6,0.6 0 1,0 0.6,0A0.6,0.6 0 1,0 -0.6,0Z",
              "M-0.98,0A0.98,0.98 0 1,0 0.98,0A0.98,0.98 0 1,0 -0.98,0Z",
              "M-4.2,-0.36H4.2V0.36H-4.2Z"
            ]
          }
        },
        "stroke": {
          "field": "series", "type": "nominal",
          "scale": {
            "domain": ["Time Filtered", "Manually Filtered", "Rainfall Filtered", "Measured Noise", "Derived Prevailing Noise Level"],
            "range": ["transparent", "transparent", "#6a8fc0", "#3a3a3a", "transparent"]
          }
        }
      }
    },
    {
      "data": {"name": "fit"},
      "mark": {"type": "line", "color": "black", "strokeWidth": 3, "interpolate": "monotone"},
      "encoding": {
        "x": {"field": "x", "type": "quantitative"},
        "y": {
          "field": "y", "type": "quantitative",
          "axis": {
            "orient": "right",
            "title": null,
            "values": [16,17,18,19,21,22,23,24,26,27,28,29,31,32,33,34,36,37,38,39,41,42,43,44,46,47,48,49,51,52,53,54,56,57,58,59,61,62,63,64],
            "labels": false,
            "ticks": false,
            "domain": false,
            "grid": true,
            "gridColor": "#c4c4c4",
            "gridDash": [4, 3],
            "gridWidth": 1
          }
        }
      }
    },
    {
      "data": {"values": [{}]},
      "mark": {"type": "rect", "fill": "white", "stroke": "#404040", "strokeWidth": 1.2},
      "encoding": {
        "x": {"datum": 7.26, "type": "quantitative"},
        "x2": {"datum": 11.75},
        "y": {"datum": 62.48, "type": "quantitative", "axis": null},
        "y2": {"datum": 57.54}
      }
    },
    {
      "data": {"values": [{}]},
      "mark": {"type": "text", "font": "Lato", "fontSize": 18, "color": "black", "align": "center", "baseline": "middle", "text": "y = 1.5556E-01x² - 1.0014E+00x + 3.0575E+01"},
      "encoding": {
        "x": {"datum": 9.49, "type": "quantitative"},
        "y": {"datum": 60.95, "type": "quantitative", "axis": null}
      }
    },
    {
      "data": {"values": [{}]},
      "mark": {"type": "text", "font": "Lato", "fontSize": 18, "color": "black", "align": "center", "baseline": "middle", "text": "R² = 2.5322E-01"},
      "encoding": {
        "x": {"datum": 9.49, "type": "quantitative"},
        "y": {"datum": 58.7, "type": "quantitative", "axis": null}
      }
    }
  ]
}
